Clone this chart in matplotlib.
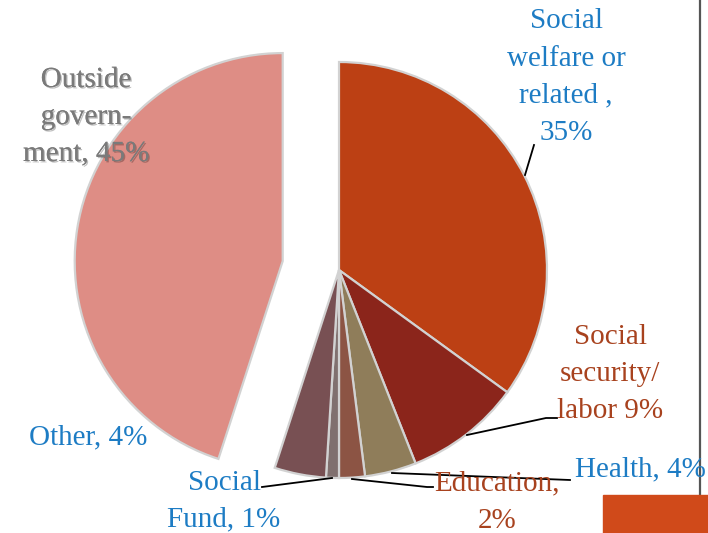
import matplotlib.pyplot as plt
import matplotlib.patheffects as pe
from matplotlib.patches import Rectangle

# spending shares, clockwise from the top
categories = ['Social welfare or related', 'Social security/labor', 'Health',
              'Education', 'Social Fund', 'Other', 'Outside government']
shares = [35, 9, 4, 2, 1, 4, 45]
colors = ['#BC4014', '#8B251B', '#8F7D5A', '#8C5444', '#80706F', '#785053', '#DE8D85']

blue = '#1D7CC4'
brown = '#A8421E'
grey = '#7a7a7a'

fig = plt.figure(figsize=(7.08, 5.33), dpi=100)
ax = fig.add_axes([0, 0, 1, 1])

# pie drawn in pixel-sized data units, y measured from the bottom
cx, cy, r = 339, 263, 208
ax.pie(shares, radius=r, center=(cx, cy), startangle=90, counterclock=False,
       explode=[0, 0, 0, 0, 0, 0, 57], colors=colors,
       wedgeprops=dict(edgecolor='#d2d2d2', linewidth=1.6))

ax.set_xlim(0, 708)
ax.set_ylim(0, 533)
ax.set_aspect('equal')
ax.axis('off')

font = dict(family='Liberation Serif', fontsize=21, linespacing=1.55,
            ha='center', va='center')

def Y(y):
    return 533 - y

ax.text(566, Y(77), 'Social\nwelfare or\nrelated ,\n35%', color=blue, **font)
ax.plot([525, 534], [Y(175), Y(145)], color='black', lw=1.3)

ax.text(86, Y(117), 'Outside\ngovern-\nment, 45%', color=grey, zorder=5,
        path_effects=[pe.withSimplePatchShadow(offset=(1, -1), shadow_rgbFace='black', alpha=0.25),
                      pe.Normal()], **font)

ax.text(610, Y(374), 'Social\nsecurity/\nlabor 9%', color=brown, **font)
ax.plot([467, 546, 557], [Y(435), Y(418), Y(418)], color='black', lw=1.3)

ax.text(575, Y(469), 'Health, 4%', color=blue, **{**font, 'ha': 'left'})
ax.plot([392, 570], [Y(473), Y(480)], color='black', lw=1.3)

ax.text(497, Y(502), 'Education,\n2%', color=brown, **font)
ax.plot([352, 427, 433], [Y(479), Y(487), Y(487)], color='black', lw=1.3)

ax.text(224, Y(501), 'Social\nFund, 1%', color=blue, **font)
ax.plot([262, 332], [Y(487), Y(478)], color='black', lw=1.3)

ax.text(88, Y(437), 'Other, 4%', color=blue, **font)

# slide frame pieces on the right
ax.plot([700, 700], [Y(0), Y(495)], color='#555555', lw=1.6)
ax.add_patch(Rectangle((603, 0), 105, Y(495), color='#D04A1A', zorder=3))

fig.savefig('out.png', dpi=100)
